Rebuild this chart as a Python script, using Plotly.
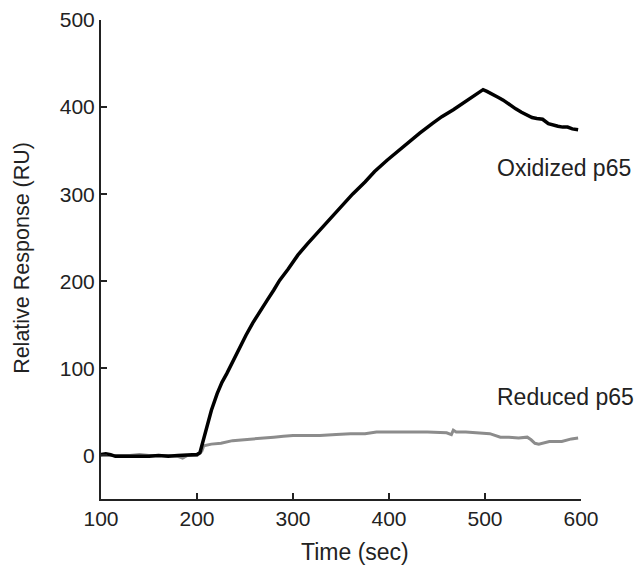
import plotly.graph_objects as go

ox_t = [100,105,110,115,120,130,140,150,160,170,180,190,200,203,210,215,221,226,231,238,245,251,258,265,273,280,286,295,305,315,328,340,350,362,375,385,398,410,420,432,445,455,467,478,488,495,498,502,508,514,519,525,532,538,544,549,554,560,566,571,576,581,586,591,597]
ox_v = [1,2,1,-1,-1,-1,-1,-1,0,-1,0,0,1,3,32,52,71,84,94,110,124,138,152,165,178,190,201,214,230,243,259,273,286,300,314,326,339,350,360,370,381,389,397,405,412,417,420,418,414,411,408,403,398,394,391,388,387,386,381,379,378,377,377,375,374]

red_t = [100,110,120,130,140,150,160,170,180,185,190,200,205,207,215,225,237,250,265,280,290,300,315,328,345,360,375,387,400,420,440,460,465,467,470,480,498,505,516,525,535,544,548,552,556,567,580,590,597]
red_v = [0,0,0,0,1,0,0,0,-1,-3,0,0,5,11,13,14,17,18,20,21,22,23,23,23,24,25,25,27,27,27,27,26,24,29,27,27,26,25,21,21,20,21,18,14,13,16,16,19,20]

x_ticks = [100,200,300,400,500,600]
y_ticks = [0,100,200,300,400,500]
labels = ["Oxidized p65", "Reduced p65"]
label_pos = [(510, 330), (510, 67)]

FONT = "Liberation Sans, Arial"
TXT = "#222222"

fig = go.Figure()
fig.add_trace(go.Scatter(x=red_t, y=red_v, mode="lines", line=dict(color="#8c8c8c", width=3), name=labels[1]))
fig.add_trace(go.Scatter(x=ox_t, y=ox_v, mode="lines", line=dict(color="#000000", width=3.5), name=labels[0]))

for txt, (lx, ly) in zip(labels, label_pos):
    fig.add_annotation(x=lx, y=ly, text=txt, showarrow=False, xanchor="left", yanchor="middle",
                       font=dict(size=23, color=TXT, family=FONT))

# axis titles
fig.add_annotation(xref="paper", yref="paper", x=0.529, y=-0.111, text="Time (sec)", showarrow=False,
                   xanchor="center", yanchor="middle", font=dict(size=23, color=TXT, family=FONT))
fig.add_annotation(xref="paper", yref="paper", x=-0.165, y=0.503, text="Relative Response (RU)", showarrow=False,
                   textangle=-90, xanchor="center", yanchor="middle", font=dict(size=21.5, color=TXT, family=FONT))

axis_common = dict(showgrid=False, zeroline=False, showline=True, linecolor="#222222", linewidth=2,
                   ticks="inside", ticklen=6, tickwidth=2, tickcolor="#222222", automargin=False,
                   tickfont=dict(size=21, color=TXT, family=FONT))
fig.update_xaxes(range=[100, 600], tickvals=x_ticks, ticklabelstandoff=0, **axis_common)
fig.update_yaxes(range=[-50, 500], tickvals=y_ticks, **axis_common)
fig.update_layout(width=638, height=570, margin=dict(l=101, r=57, t=20, b=71),
                  plot_bgcolor="white", paper_bgcolor="white", showlegend=False,
                  font=dict(family=FONT))
fig.write_html("out.html", config={"displayModeBar": False},
               post_script="document.body.style.margin='0px';document.body.style.overflow='hidden';")
